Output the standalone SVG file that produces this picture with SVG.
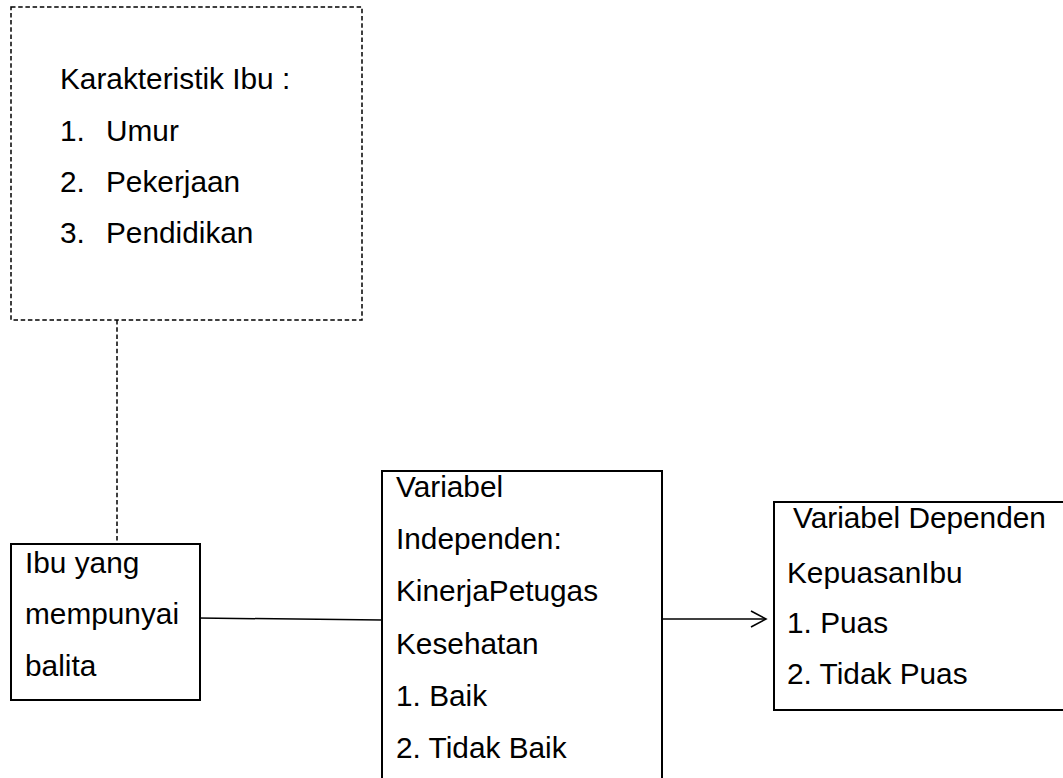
<svg xmlns="http://www.w3.org/2000/svg" width="1063" height="778" viewBox="0 0 1063 778">
<style>
  text { font-family: "Liberation Sans", Arial, sans-serif; font-size: 29.8px; fill: #000; }
  .box { fill: #fff; stroke: #000; stroke-width: 2; }
  .dash { fill: none; stroke: #000; stroke-width: 1.5; stroke-dasharray: 4.5 2.7; }
  .conn { fill: none; stroke: #000; stroke-width: 1.5; }
</style>
<defs>
  <marker id="open" viewBox="0 0 18 20" refX="16" refY="10" markerWidth="18" markerHeight="20" markerUnits="userSpaceOnUse" orient="auto">
    <polyline points="1,2 16,10 1,18" fill="none" stroke="#000" stroke-width="1.6"/>
  </marker>
</defs>
<rect width="1063" height="778" fill="#fff"/>
<g id="connectors">
  <line class="dash" x1="117" y1="320" x2="117" y2="543"/>
  <line class="conn" x1="198" y1="618" x2="382" y2="620"/>
  <line class="conn" x1="658" y1="619" x2="766" y2="619" marker-end="url(#open)"/>
</g>
<g id="karakteristik">
  <rect class="dash" x="11" y="7" width="351" height="313"/>
  <text x="60" y="89">Karakteristik Ibu :</text>
  <text x="60" y="141">1.</text><text x="106" y="141">Umur</text>
  <text x="60" y="192">2.</text><text x="106" y="192">Pekerjaan</text>
  <text x="60" y="243">3.</text><text x="106" y="243">Pendidikan</text>
</g>
<g id="ibu">
  <rect class="box" x="11" y="544" width="189" height="156"/>
  <text x="25" y="573">Ibu yang</text>
  <text x="25" y="624">mempunyai</text>
  <text x="25" y="676">balita</text>
</g>
<g id="independen">
  <rect class="box" x="382" y="471" width="280" height="320"/>
  <text x="396" y="497">Variabel</text>
  <text x="396" y="549">Independen:</text>
  <text x="396" y="601">KinerjaPetugas</text>
  <text x="396" y="654">Kesehatan</text>
  <text x="396" y="706">1. Baik</text>
  <text x="396" y="758">2. Tidak Baik</text>
</g>
<g id="dependen">
  <rect class="box" x="774" y="502" width="300" height="208"/>
  <text x="793" y="528">Variabel Dependen</text>
  <text x="787" y="583">KepuasanIbu</text>
  <text x="787" y="633">1. Puas</text>
  <text x="787" y="684">2. Tidak Puas</text>
</g>
</svg>
